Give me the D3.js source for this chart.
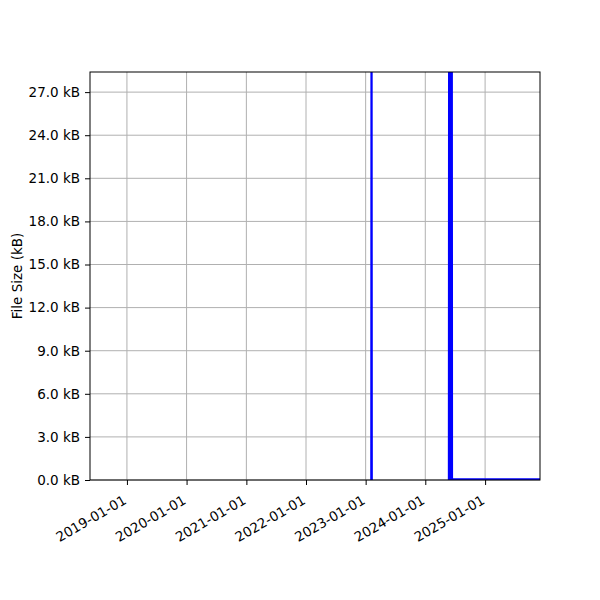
<!DOCTYPE html>
<html>
<head>
<meta charset="utf-8">
<script src="https://cdn.jsdelivr.net/npm/d3@7"></script>
<style>
  body { margin: 0; background: #fff; }
  text { font-family: "DejaVu Sans", sans-serif; }
</style>
</head>
<body>
<script>
//data, sizes in kB, null = no data (gap)
const dates = [
  '2023-02-04', '2023-02-06', '2023-02-08', '2023-02-10',
  '2024-05-24', '2024-05-26', '2024-05-28', '2024-05-30', '2024-06-01', '2024-06-03',
  '2024-06-05', '2024-06-07', '2024-06-09', '2024-06-11', '2024-06-13',
  '2024-09-01', '2025-01-01', '2025-05-01', '2025-09-01', '2025-12-31'
]
const sizes = [
  0, 50, 0, null,
  0, 50, 0, 50, 0, 50,
  0, 50, 0, 50, 0.05,
  0.05, 0.05, 0.05, 0.05, 0.05
]

//tick labels
const xTicks = ['2019-01-01', '2020-01-01', '2021-01-01', '2022-01-01', '2023-01-01', '2024-01-01', '2025-01-01']
const yTicks = [0, 3, 6, 9, 12, 15, 18, 21, 24, 27]

const yAxisLabel = 'File Size (kB)'

const parse = d3.timeParse('%Y-%m-%d')
const data = dates.map((d, i) => ({ date: parse(d), size: sizes[i] }))

const width = 600
const height = 600
const margin = { top: 72, bottom: 120, left: 90, right: 60 }
const innerWidth = width - margin.left - margin.right
const innerHeight = height - margin.top - margin.bottom
const fontSize = 13.5

const svg = d3.select('body')
  .append('svg')
  .attr('width', width)
  .attr('height', height)

//=================SCALES===================
const xScale = d3.scaleTime()
  .domain([parse('2018-05-20'), parse('2025-12-03')])
  .range([0, innerWidth])

const yScale = d3.scaleLinear()
  .domain([0, 28.4])
  .range([innerHeight, 0])

const g = svg.append('g')
  .attr('transform', `translate(${margin.left},${margin.top})`)

//================= GRID =====================
g.append('g')
  .selectAll('line')
  .data(xTicks.map(parse))
  .enter()
  .append('line')
  .attr('x1', d => xScale(d))
  .attr('x2', d => xScale(d))
  .attr('y1', 0)
  .attr('y2', innerHeight)
  .attr('stroke', '#b0b0b0')
  .attr('stroke-width', 1)

g.append('g')
  .selectAll('line')
  .data(yTicks)
  .enter()
  .append('line')
  .attr('x1', 0)
  .attr('x2', innerWidth)
  .attr('y1', d => yScale(d))
  .attr('y2', d => yScale(d))
  .attr('stroke', '#b0b0b0')
  .attr('stroke-width', 1)

//=================== DATA ==================
svg.append('clipPath')
  .attr('id', 'plot-clip')
  .append('rect')
  .attr('width', innerWidth)
  .attr('height', innerHeight)

const line = d3.line()
  .defined(d => d.size !== null)
  .x(d => xScale(d.date))
  .y(d => yScale(d.size))

g.append('path')
  .datum(data)
  .attr('clip-path', 'url(#plot-clip)')
  .attr('d', line)
  .attr('fill', 'none')
  .attr('stroke', '#0000ff')
  .attr('stroke-width', 2)

//================= AXES =====================
const xAxis = d3.axisBottom(xScale)
  .tickValues(xTicks.map(parse))
  .tickFormat(d3.timeFormat('%Y-%m-%d'))
  .tickSize(5)

const yAxis = d3.axisLeft(yScale)
  .tickValues(yTicks)
  .tickFormat(d => d3.format('.1f')(d) + ' kB')
  .tickSize(5)
  .tickPadding(5)

const xAxisGroup = g.append('g')
  .attr('transform', `translate(0,${innerHeight})`)
  .call(xAxis)
xAxisGroup.select('.domain').remove()
//rotated labels, end of the text sits under the tick
xAxisGroup.selectAll('text')
  .attr('font-size', fontSize)
  .attr('fill', '#000')
  .attr('text-anchor', 'end')
  .attr('x', 0)
  .attr('y', 0)
  .attr('dy', 0)
  .attr('transform', 'translate(0,23) rotate(-30)')

const yAxisGroup = g.append('g').call(yAxis)
yAxisGroup.select('.domain').remove()
yAxisGroup.selectAll('text')
  .attr('font-size', fontSize)
  .attr('fill', '#000')

//frame
g.append('rect')
  .attr('width', innerWidth)
  .attr('height', innerHeight)
  .attr('fill', 'none')
  .attr('stroke', '#000')
  .attr('stroke-width', 1)

g.append('text')
  .text(yAxisLabel)
  .attr('transform', 'rotate(-90)')
  .attr('x', -innerHeight / 2)
  .attr('y', -68.5)
  .attr('text-anchor', 'middle')
  .attr('font-size', fontSize)
</script>
</body>
</html>
